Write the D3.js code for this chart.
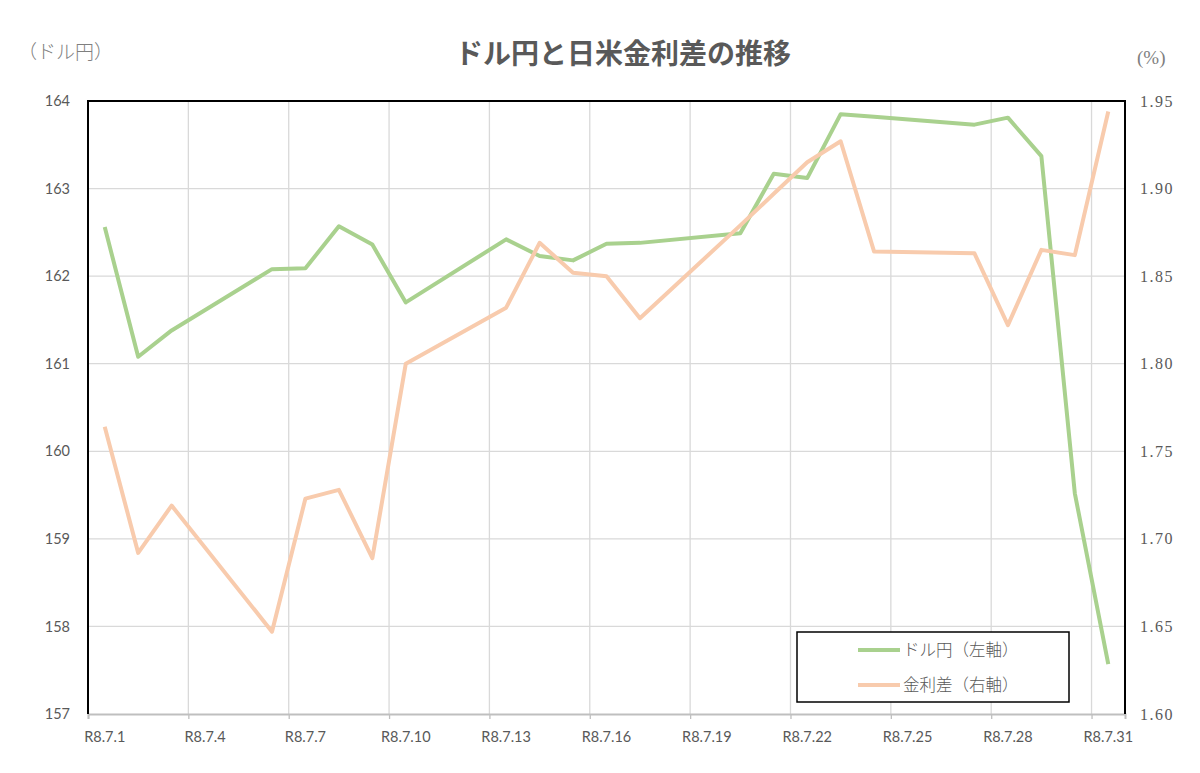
<!DOCTYPE html>
<html>
<head>
<meta charset="utf-8">
<script src="https://cdn.jsdelivr.net/npm/d3@7"></script>
<style>
  body { margin: 0; background: #fff; }
  svg { display: block; }
</style>
</head>
<body>
<div id="chart"></div>
<script>
// trading days of R8.7 (weekends skipped)
const days = [1, 2, 3, 6, 7, 8, 9, 10, 13, 14, 15, 16, 17, 20, 21, 22, 23, 24, 27, 28, 29, 30, 31];
const usdJpy = [162.56, 161.08, 161.38, 162.08, 162.09, 162.57, 162.36, 161.70, 162.42, 162.23, 162.18,
  162.37, 162.38, 162.49, 163.17, 163.12, 163.85, 163.82, 163.73, 163.81, 163.37, 159.52, 157.57];
const rateGap = [1.764, 1.692, 1.719, 1.647, 1.723, 1.728, 1.689, 1.800, 1.832, 1.869, 1.852,
  1.850, 1.826, 1.879, 1.897, 1.915, 1.927, 1.864, 1.863, 1.822, 1.865, 1.862, 1.944];
const tickDays = [1, 4, 7, 10, 13, 16, 19, 22, 25, 28, 31];
const leftTicks = [157, 158, 159, 160, 161, 162, 163, 164];
const rightTicks = [1.60, 1.65, 1.70, 1.75, 1.80, 1.85, 1.90, 1.95];
const seriesNames = ['ドル円（左軸）', '金利差（右軸）'];
const colors = ['#a9d18e', '#f8cbad'];

const width = 1200, height = 773;
const m = { top: 101, right: 75, bottom: 59, left: 88 };
const iw = width - m.left - m.right, ih = height - m.top - m.bottom;
const jp = '"Noto Sans CJK JP", sans-serif';

const svg = d3.select('#chart').append('svg')
  .attr('width', width).attr('height', height);

const x = d3.scaleLinear().domain([0.5, 31.5]).range([0, iw]);
const yL = d3.scaleLinear().domain([157, 164]).range([ih, 0]);
const yR = d3.scaleLinear().domain([1.60, 1.95]).range([ih, 0]);

const g = svg.append('g').attr('transform', `translate(${m.left},${m.top})`);

// gridlines
g.append('g').selectAll('line.h')
  .data(leftTicks.slice(1, -1))
  .join('line')
    .attr('x1', 0).attr('x2', iw)
    .attr('y1', d => yL(d)).attr('y2', d => yL(d))
    .attr('stroke', '#d9d9d9').attr('stroke-width', 1.3);

g.append('g').selectAll('line.v')
  .data(tickDays.slice(1).map(d => d - 0.5))
  .join('line')
    .attr('x1', d => x(d)).attr('x2', d => x(d))
    .attr('y1', 0).attr('y2', ih)
    .attr('stroke', '#d9d9d9').attr('stroke-width', 1.3);

// x axis
const xAxis = g.append('g')
  .attr('transform', `translate(0,${ih})`)
  .call(d3.axisBottom(x).tickValues(tickDays.map(d => d - 0.5)).tickSize(5).tickFormat(''));
xAxis.select('.domain').attr('stroke', '#bfbfbf').attr('stroke-width', 2);
xAxis.selectAll('.tick line').attr('stroke', '#bfbfbf').attr('stroke-width', 1.3);

g.append('g').selectAll('text')
  .data(tickDays)
  .join('text')
    .attr('x', d => x(d)).attr('y', ih + 28)
    .attr('text-anchor', 'middle')
    .attr('fill', '#595959')
    .style('font', '14.5px Lato, sans-serif')
    .text(d => `R8.7.${d}`);

// frame (left, top, right)
g.append('path')
  .attr('d', `M0,${ih}V0H${iw}V${ih}`)
  .attr('fill', 'none').attr('stroke', '#000').attr('stroke-width', 2);

// left ticks
g.append('g').selectAll('text')
  .data(leftTicks)
  .join('text')
    .attr('x', -18).attr('y', d => yL(d)).attr('dy', '0.35em')
    .attr('text-anchor', 'end')
    .attr('fill', '#595959')
    .style('font', '14.5px Lato, sans-serif')
    .text(d => d);

// right ticks
g.append('g').selectAll('text')
  .data(rightTicks)
  .join('text')
    .attr('x', iw + 15).attr('y', d => yR(d)).attr('dy', '0.35em')
    .attr('fill', '#595959')
    .attr('letter-spacing', 1.5)
    .style('font', '16px "Liberation Serif", serif')
    .text(d => d3.format('.2f')(d));

// lines
const lineL = d3.line().x((d, i) => x(days[i])).y(d => yL(d));
const lineR = d3.line().x((d, i) => x(days[i])).y(d => yR(d));

g.append('path').datum(usdJpy)
  .attr('d', lineL).attr('fill', 'none')
  .attr('stroke', colors[0]).attr('stroke-width', 4).attr('stroke-linejoin', 'round');
g.append('path').datum(rateGap)
  .attr('d', lineR).attr('fill', 'none')
  .attr('stroke', colors[1]).attr('stroke-width', 4).attr('stroke-linejoin', 'round');

// title and axis captions
svg.append('text')
  .attr('x', 623).attr('y', 64)
  .attr('text-anchor', 'middle')
  .attr('fill', '#595959')
  .style('font', `bold 28px ${jp}`)
  .text('ドル円と日米金利差の推移');

svg.append('text')
  .attr('x', 18).attr('y', 59)
  .attr('fill', '#7f7f7f')
  .style('font', `300 19px ${jp}`)
  .text('（ドル円）');

svg.append('text')
  .attr('x', 1137).attr('y', 64)
  .attr('fill', '#7f7f7f')
  .style('font', '19px "Liberation Serif", serif')
  .text('(%)');

// legend
const lg = svg.append('g').attr('transform', 'translate(797,632)');
lg.append('rect')
  .attr('width', 272).attr('height', 70)
  .attr('fill', '#fff').attr('stroke', '#000').attr('stroke-width', 1.5);
const item = lg.selectAll('g.item')
  .data(seriesNames)
  .join('g')
    .attr('transform', (d, i) => `translate(0,${18 + i * 35})`);
item.append('line')
  .attr('x1', 61).attr('x2', 103)
  .attr('stroke', (d, i) => colors[i]).attr('stroke-width', 4);
item.append('text')
  .attr('x', 106).attr('dy', '0.35em')
  .attr('fill', '#595959')
  .style('font', `300 16.5px ${jp}`)
  .text(d => d);
</script>
</body>
</html>
